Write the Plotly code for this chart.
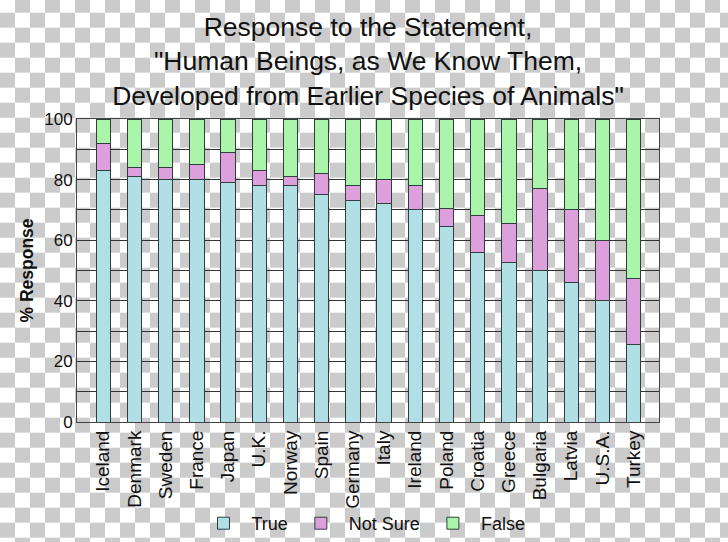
import base64
import plotly.graph_objects as go

countries = ["Iceland", "Denmark", "Sweden", "France", "Japan", "U.K.", "Norway", "Spain",
             "Germany", "Italy", "Ireland", "Poland", "Croatia", "Greece", "Bulgaria",
             "Latvia", "U.S.A.", "Turkey"]
true_vals = [83, 81, 80, 80, 79, 78, 78, 75, 73, 72, 70, 64.5, 56, 52.5, 50, 46, 40, 25.5]
not_sure_vals = [9, 3, 4, 5, 10, 5, 3, 7, 5, 8, 8, 6, 12, 13, 27, 24, 20, 22]
false_vals = [8, 16, 16, 15, 11, 17, 19, 18, 22, 20, 22, 29.5, 32, 34.5, 23, 30, 40, 52.5]
series_names = ["True", "Not Sure", "False"]
series_colors = ["#b0e0e6", "#dda0dd", "#aaf5aa"]

W, H = 728, 542
ML, MR, MT, MB = 77, 69, 119, 120
PW, PH = W - ML - MR, H - MT - MB

# transparency checkerboard background (decoration)
svg = (
    f'<svg xmlns="http://www.w3.org/2000/svg" width="{W}" height="{H}">'
    '<defs><pattern id="p" width="30" height="30" patternUnits="userSpaceOnUse" x="0" y="-2.3">'
    '<rect width="30" height="30" fill="#ffffff"/>'
    '<rect x="15" y="0" width="15" height="15" fill="#cbcbcb"/>'
    '<rect x="0" y="15" width="15" height="15" fill="#cbcbcb"/>'
    '</pattern></defs>'
    f'<rect width="{W}" height="{H}" fill="url(#p)"/></svg>'
)
bg_uri = "data:image/svg+xml;base64," + base64.b64encode(svg.encode()).decode()

fig = go.Figure()
for name, vals, col in zip(series_names, [true_vals, not_sure_vals, false_vals], series_colors):
    fig.add_trace(go.Bar(
        x=list(range(len(countries))), y=vals, name=name, width=0.46,
        marker=dict(color=col, line=dict(color="#2f3f3f", width=1)),
    ))

fig.update_layout(
    width=W, height=H,
    margin=dict(l=ML, r=MR, t=MT, b=MB, pad=0, autoexpand=False),
    barmode="stack",
    paper_bgcolor="#ffffff",
    plot_bgcolor="#ffffff",
    font=dict(family="Liberation Sans, Arial, sans-serif", color="#111111"),
    title=dict(
        text='Response to the Statement,<br>"Human Beings, as We Know Them,<br>Developed from Earlier Species of Animals"',
        font=dict(size=26.5, color="#111111"),
        x=(ML + PW / 2) / W, xanchor="center", xref="container",
        y=1 - 36 / H, yanchor="top", yref="container", automargin=False,
    ),
    xaxis=dict(
        tickmode="array", tickvals=list(range(len(countries))), ticktext=countries,
        tickangle=-90, tickfont=dict(size=19, color="#111111"),
        range=[-0.84, 17.81], showgrid=False, zeroline=False,
        showline=True, linecolor="#444444", linewidth=1, mirror=True,
        ticks="", automargin=False,
    ),
    yaxis=dict(
        range=[0, 100], tickmode="linear", tick0=0, dtick=20,
        tickfont=dict(size=17, color="#111111"),
        showgrid=True, gridcolor="#333333", gridwidth=1,
        minor=dict(dtick=10, showgrid=True, gridcolor="#333333", gridwidth=1),
        zeroline=False, showline=True, linecolor="#444444", linewidth=1, mirror=True,
        ticks="", automargin=False,
        title=dict(text="<b>% Response</b>", font=dict(size=17.5, color="#111111"), standoff=6),
    ),
    legend=dict(
        orientation="h", x=0.5 - 5 / PW, xanchor="center",
        y=-0.335, yanchor="middle", font=dict(size=18, color="#111111"),
        traceorder="normal", bgcolor="rgba(0,0,0,0)", itemwidth=46,
    ),
    showlegend=True,
    images=[dict(
        source=bg_uri, xref="paper", yref="paper",
        x=-ML / PW, y=1 + MT / PH, sizex=W / PW, sizey=H / PH,
        xanchor="left", yanchor="top", sizing="stretch", layer="below",
    )],
)

fig.write_html("out.html", config={"displayModeBar": False},
               post_script="document.body.style.margin='0';")
